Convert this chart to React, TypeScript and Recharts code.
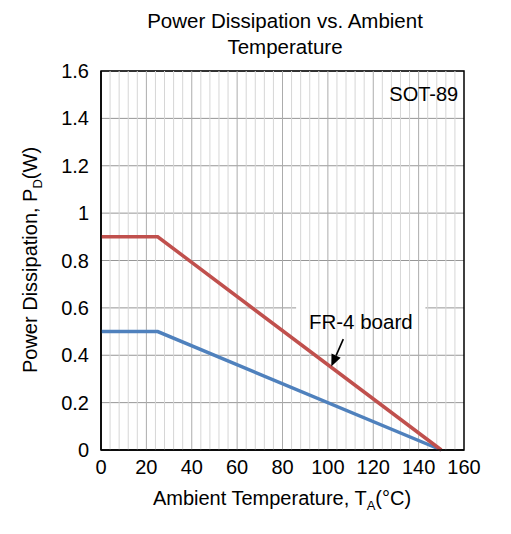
import {
  CartesianGrid,
  Label,
  Line,
  LineChart,
  ReferenceArea,
  ReferenceLine,
  XAxis,
  YAxis
} from "recharts";

const temps = [0, 25, 150];
const fr4Board = [0.9, 0.9, 0];
const minPad = [0.5, 0.5, 0];

const xTicks = [0, 20, 40, 60, 80, 100, 120, 140, 160];
const yTicks = [0, 0.2, 0.4, 0.6, 0.8, 1, 1.2, 1.4, 1.6];
const minorX = Array.from({ length: 41 }, (_, i) => i * 4).filter((v) => v % 20 !== 0);

const data = temps.map((t, i) => ({ t, fr4: fr4Board[i], pad: minPad[i] }));

const FONT = '"Liberation Sans", Arial, sans-serif';

// arrow from the FR-4 label down to the red curve
function Arrow(props: any) {
  const { x1, y1, x2, y2 } = props;
  const ang = Math.atan2(y2 - y1, x2 - x1);
  const len = 12;
  const w = 5;
  const bx = x2 - len * Math.cos(ang);
  const by = y2 - len * Math.sin(ang);
  const px = -Math.sin(ang) * w;
  const py = Math.cos(ang) * w;
  return (
    <g>
      <line x1={x1} y1={y1} x2={bx} y2={by} stroke="#000" strokeWidth={1.6} />
      <polygon points={`${x2},${y2} ${bx + px},${by + py} ${bx - px},${by - py}`} fill="#000" />
    </g>
  );
}

export default function App() {
  return (
    <div style={{ position: "absolute", left: 0, top: 0, fontFamily: FONT }}>
      <LineChart
        width={511}
        height={534}
        data={data}
        margin={{ top: 71, right: 47, left: 41, bottom: 44 }}
      >
        <CartesianGrid stroke="#969696" vertical={false} />
        {minorX.map((v) => (
          <ReferenceLine key={v} x={v} stroke="#d6d6d6" strokeWidth={1} />
        ))}
        {xTicks.slice(1, -1).map((v) => (
          <ReferenceLine key={"M" + v} x={v} stroke="#acacac" strokeWidth={1} />
        ))}
        <XAxis
          dataKey="t"
          type="number"
          domain={[0, 160]}
          ticks={xTicks}
          tickLine={false}
          axisLine={{ stroke: "#000", strokeWidth: 1.5 }}
          tickSize={0}
          tickMargin={10}
          height={40}
          tick={{ fill: "#000", fontSize: 20, fontFamily: FONT }}
        >
          <Label
            content={() => (
              <text x={282} y={505} textAnchor="middle" fontSize={20} fontFamily={FONT} fill="#000">
                Ambient Temperature, T
                <tspan fontSize={13} dy={5}>A</tspan>
                <tspan dy={-5}>(°C)</tspan>
              </text>
            )}
          />
        </XAxis>
        <YAxis
          type="number"
          domain={[0, 1.6]}
          ticks={yTicks}
          tickLine={false}
          axisLine={{ stroke: "#000", strokeWidth: 1.5 }}
          tickSize={0}
          tickMargin={12}
          width={60}
          tick={{ fill: "#000", fontSize: 20, fontFamily: FONT }}
        >
          <Label
            content={() => (
              <text
                x={37}
                y={260}
                transform="rotate(-90 37 260)"
                textAnchor="middle"
                fontSize={20}
                fontFamily={FONT}
                fill="#000"
              >
                Power Dissipation, P
                <tspan fontSize={13} dy={5}>D</tspan>
                <tspan dy={-5}>(W)</tspan>
              </text>
            )}
          />
        </YAxis>

        <ReferenceArea x1={121} x2={160} y1={1.45} y2={1.56} fill="#fff" fillOpacity={1} stroke="none">
          <Label value="SOT-89" position="center" dx={4} fill="#000" fontSize={20} fontFamily={FONT} />
        </ReferenceArea>
        <ReferenceArea x1={86} x2={143} y1={0.48} y2={0.605} fill="#fff" fillOpacity={1} stroke="none">
          <Label value="FR-4 board" position="center" dx={0} fill="#000" fontSize={20.5} fontFamily={FONT} />
        </ReferenceArea>

        <Line
          dataKey="pad"
          stroke="#4f81bd"
          strokeWidth={3.5}
          dot={false}
          isAnimationActive={false}
        />
        <Line
          dataKey="fr4"
          stroke="#c0504d"
          strokeWidth={3.5}
          dot={false}
          isAnimationActive={false}
        />

        <ReferenceLine
          segment={[
            { x: 106.8, y: 0.468 },
            { x: 101.5, y: 0.352 }
          ]}
          shape={Arrow}
        />
        <ReferenceArea x1={0} x2={160} y1={0} y2={1.6} fill="none" stroke="#000" strokeWidth={1.5} />

        <text x={285} y={28} textAnchor="middle" fontSize={20.5} fontFamily={FONT} fill="#000">
          Power Dissipation vs. Ambient
        </text>
        <text x={285} y={54} textAnchor="middle" fontSize={20.5} fontFamily={FONT} fill="#000">
          Temperature
        </text>
      </LineChart>
    </div>
  );
}
